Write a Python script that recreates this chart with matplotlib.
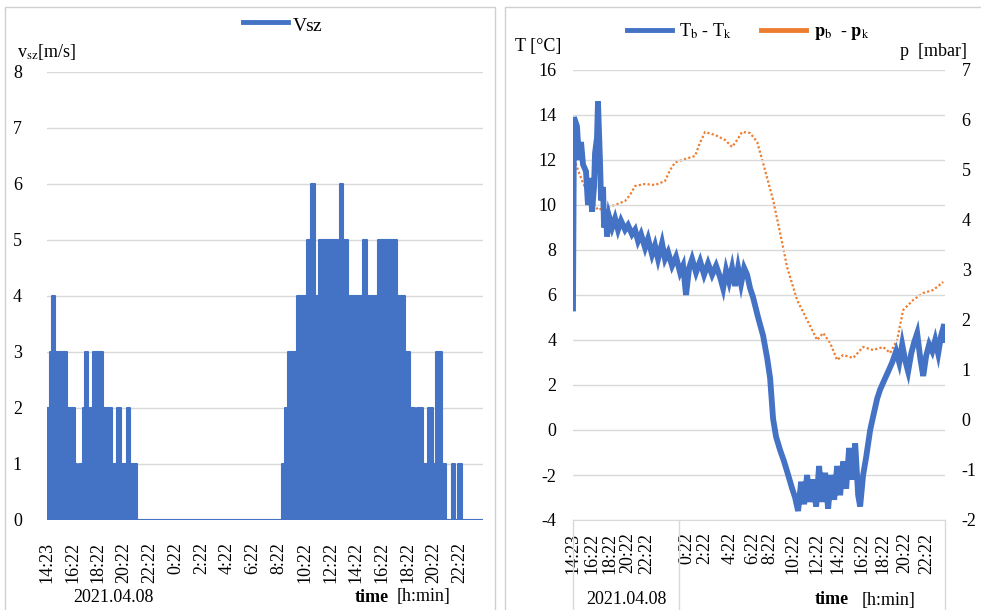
import matplotlib
matplotlib.use("Agg")
import matplotlib.pyplot as plt
from matplotlib.patches import Rectangle
from matplotlib.lines import Line2D

plt.rcParams['font.family'] = ['Liberation Serif', 'DejaVu Serif']
plt.rcParams['mathtext.fontset'] = 'stix'
plt.rcParams['axes.unicode_minus'] = False

# ---------------- data ----------------
# hours since 2021.04.08 14:23
wind_t = [0.0, 0.23, 0.39, 0.62, 1.55, 2.17, 2.33, 2.48, 2.79, 2.95, 3.18, 3.57, 4.34, 5.04,
          5.43, 5.74, 6.2, 6.43, 6.67, 6.74, 6.98, 18.22, 18.45, 18.68, 19.38, 20.16, 20.47,
          20.78, 21.09, 22.71, 22.95, 23.33, 24.26, 24.34, 24.5, 24.81, 25.66, 27.13, 27.75,
          28.14, 28.53, 28.68, 29.15, 29.53, 29.92, 30.16, 30.62, 30.93, 31.4, 31.63, 31.86,
          32.17, 33.8]
wind_v = [2, 3, 4, 3, 2, 1, 0, 1, 2, 3, 2, 3, 2, 1, 2, 1, 2, 1, 0, 1,
          0, 1, 2, 3, 4, 5, 6, 4, 5, 6, 5, 4, 3, 4, 5, 4, 5, 4, 3, 2,
          1, 2, 1, 2, 1, 3, 1, 0, 1, 0, 1, 0, 0]

temp_t = [0.0, 0.09, 0.36, 0.55, 0.73, 0.91, 1.18, 1.36, 1.55, 1.73, 1.91, 2.0, 2.18, 2.27,
          2.45, 2.55, 2.73, 2.82, 3.0, 3.09, 3.27, 3.55, 3.82, 4.09, 4.36, 4.73, 5.0, 5.36,
          5.64, 5.91, 6.18, 6.55, 6.82, 7.18, 7.45, 7.73, 8.09, 8.36, 8.64, 9.0, 9.36, 9.73,
          10.0, 10.27, 10.55, 10.82, 11.18, 11.55, 11.91, 12.27, 12.64, 13.0, 13.36, 13.64,
          13.91, 14.18, 14.45, 14.73, 15.0, 15.27, 15.55, 15.82, 16.09, 16.36, 16.82, 17.27,
          17.64, 17.91, 18.18, 18.45, 18.82, 19.18, 19.55, 19.91, 20.18, 20.45, 20.73, 21.0,
          21.27, 21.55, 21.82, 22.09, 22.36, 22.64, 22.91, 23.18, 23.45, 23.73, 24.0, 24.27,
          24.55, 24.82, 25.09, 25.36, 25.64, 25.91, 26.09, 26.36, 26.64, 27.0, 27.27, 27.64,
          27.91, 28.27, 28.64, 29.0, 29.36, 29.64, 29.91, 30.18, 30.45, 30.73, 31.0, 31.27,
          31.55, 31.82, 32.09, 32.36, 32.64, 32.91, 33.18, 33.45, 33.73, 33.8]
temp_v = [5.4, 13.9, 13.5, 12.0, 12.8, 11.8, 11.5, 10.0, 11.2, 9.7, 10.8, 12.3, 13.0, 14.6,
          12.0, 10.2, 10.8, 9.0, 9.8, 8.6, 9.5, 9.0, 9.4, 8.9, 9.3, 8.9, 9.1, 8.7,
          8.9, 8.4, 8.7, 8.1, 8.5, 7.8, 8.2, 7.6, 8.3, 7.6, 7.9, 7.3, 7.7, 7.0,
          7.3, 6.0, 7.2, 7.6, 7.0, 7.5, 6.9, 7.4, 6.9, 7.3, 6.8, 6.3,
          7.1, 6.6, 7.2, 6.4, 7.2, 6.5, 7.2, 6.9, 6.3, 5.9, 5.0, 4.2,
          3.2, 2.3, 0.5, -0.3, -0.9, -1.4, -2.0, -2.6, -3.0, -3.6, -2.3, -3.3,
          -2.0, -3.2, -2.2, -3.4, -1.6, -3.2, -1.9, -3.5, -2.0, -3.1, -1.6, -2.9,
          -1.4, -2.6, -0.8, -2.2, -0.6, -2.9, -3.4, -2.0, -1.2, 0.0, 0.6, 1.4,
          1.8, 2.2, 2.6, 3.0, 3.5, 3.0, 3.8, 3.1, 2.6, 3.4, 3.9, 4.3,
          3.2, 2.4, 3.3, 3.8, 3.5, 4.0, 3.4, 4.2, 4.7, 4.0]

pres_t = [0.0, 0.45, 0.91, 1.55, 2.27, 2.91, 3.82, 4.73, 5.18, 5.64, 6.55, 7.45, 8.36, 8.82,
          9.27, 10.18, 11.09, 11.55, 12.0, 12.91, 13.82, 14.45, 14.91, 15.36, 16.09, 16.73,
          17.27, 18.18, 18.82, 19.45, 20.36, 21.27, 22.18, 22.73, 23.36, 24.0, 24.55, 25.45,
          26.36, 27.27, 28.18, 28.82, 29.45, 30.0, 30.91, 31.82, 32.73, 33.64]
pres_v = [5.3, 5.0, 4.74, 4.45, 4.2, 4.25, 4.3, 4.38, 4.5, 4.68, 4.72, 4.7, 4.78, 5.0,
          5.15, 5.22, 5.28, 5.55, 5.76, 5.7, 5.6, 5.46, 5.6, 5.76, 5.74, 5.56,
          5.14, 4.4, 3.74, 3.06, 2.4, 2.0, 1.6, 1.74, 1.54, 1.2, 1.3, 1.24,
          1.46, 1.4, 1.46, 1.34, 1.6, 2.2, 2.4, 2.54, 2.6, 2.76]

tick_labels = ['14:23', '16:22', '18:22', '20:22', '22:22', '0:22', '2:22', '4:22', '6:22',
               '8:22', '10:22', '12:22', '14:22', '16:22', '18:22', '20:22', '22:22']
left_tick_pos = [0.0, 1.98, 3.98, 5.98, 7.98, 9.98, 11.98, 13.98, 15.98, 17.98, 19.98,
                 21.98, 23.98, 25.98, 27.98, 29.98, 31.98]
right_tick_pos = [0.0, 1.73, 3.36, 5.0, 6.73, 10.36, 12.0, 14.27, 16.36, 17.9, 20.0,
                  22.18, 24.09, 26.27, 28.18, 30.18, 32.18]
midnight = 9.62
t_end = 33.8

BLUE = '#4472C4'
ORANGE = '#ED7D31'
GRID = '#D9D9D9'
FS = 13

W, H = 981, 610
fig = plt.figure(figsize=(W / 100, H / 100), dpi=100)

# panel frames
fig.patches.append(Rectangle((5 / W, -0.01), 490 / W, 1 - 7 / H + 0.01, transform=fig.transFigure,
                             fill=False, edgecolor='#D0D0D0', lw=1))
fig.patches.append(Rectangle((505 / W, -0.01), 1.0, 1 - 7 / H + 0.01, transform=fig.transFigure,
                             fill=False, edgecolor='#D0D0D0', lw=1))

# ---------------- left panel ----------------
axL = fig.add_axes([47 / W, (H - 520) / H, 436 / W, 448 / H])
axL.fill_between(wind_t, wind_v, 0, step='post', color=BLUE, lw=0)
axL.step(wind_t, wind_v, where='post', color=BLUE, lw=1.5)
axL.set_xlim(0, t_end)
axL.set_ylim(0, 8)
axL.set_yticks(range(0, 9))
axL.yaxis.grid(True, color=GRID, lw=1)
axL.set_axisbelow(True)
for s in axL.spines.values():
    s.set_visible(False)
axL.tick_params(length=0)
axL.tick_params(axis='y', pad=18, labelsize=FS)
axL.set_xticks(left_tick_pos)
axL.set_xticklabels(tick_labels, rotation=90, fontsize=FS, va='top')
axL.tick_params(axis='x', pad=16)
fig.text(17 / W, 1 - 52 / H, r'v$_{\rm sz}$[m/s]', fontsize=FS, ha='left', va='center')
fig.text(113 / W, 1 - 597 / H, '2021.04.08', fontsize=FS, ha='center', va='center')
fig.text(355 / W, 1 - 597 / H, 'time', fontsize=FS, fontweight='bold', ha='left', va='center')
fig.text(397 / W, 1 - 597 / H, '[h:min]', fontsize=FS, ha='left', va='center')
axL.legend(handles=[Line2D([], [], color=BLUE, lw=3.5)], labels=['V$\\mathregular{_{\\!}}$sz'],
           loc='center', bbox_to_anchor=(283 / W, 1 - 24 / H),
           bbox_transform=fig.transFigure, frameon=False, fontsize=FS + 1,
           handlelength=2.3, handletextpad=0.2)

# ---------------- right panel ----------------
axR = fig.add_axes([573 / W, (H - 520) / H, 372 / W, 450 / H])
axR.plot(temp_t, temp_v, color=BLUE, lw=4.2, solid_joinstyle='miter')
axR.set_xlim(0, t_end)
axR.set_ylim(-4, 16)
axR.set_yticks(range(-4, 17, 2))
axR.yaxis.grid(True, color=GRID, lw=1)
axR.set_axisbelow(True)
for k, s in axR.spines.items():
    s.set_visible(k == 'bottom')
axR.spines['bottom'].set_color(GRID)
axR.tick_params(length=0)
axR.tick_params(axis='y', pad=12, labelsize=FS)
axR.set_xticks(right_tick_pos)
axR.set_xticklabels(tick_labels, rotation=90, fontsize=FS, va='top')
axR.tick_params(axis='x', pad=9)
trans = axR.get_xaxis_transform()
for xv in [0, midnight, t_end]:
    axR.plot([xv, xv], [0, -0.23], transform=trans, color=GRID, lw=1, clip_on=False)

axP = axR.twinx()
axP.plot(pres_t, pres_v, color=ORANGE, lw=1.6, ls=(0, (1, 1)))
axP.set_ylim(-2, 7)
axP.set_yticks(range(-2, 8))
for s in axP.spines.values():
    s.set_visible(False)
axP.tick_params(length=0, pad=12, labelsize=FS)
axR.set_zorder(axP.get_zorder() + 1)
axR.patch.set_visible(False)

fig.text(515 / W, 1 - 47 / H, 'T [°C]', fontsize=FS, ha='left', va='center')
fig.text(900 / W, 1 - 52 / H, 'p  [mbar]', fontsize=FS, ha='left', va='center')
fig.text(626 / W, 1 - 600 / H, '2021.04.08', fontsize=FS, ha='center', va='center')
fig.text(815 / W, 1 - 600 / H, 'time', fontsize=FS, fontweight='bold', ha='left', va='center')
fig.text(862 / W, 1 - 600 / H, '[h:min]', fontsize=FS, ha='left', va='center')

axR.legend(handles=[Line2D([], [], color=BLUE, lw=3.5), Line2D([], [], color=ORANGE, lw=3.5)],
           labels=[r'T$_{\rm b}$ - T$_{\rm k}$', r'$\mathbf{p}_{\rm b}$  - $\mathbf{p}_{\rm k}$'],
           loc='center', bbox_to_anchor=(748 / W, 1 - 32 / H), bbox_transform=fig.transFigure,
           frameon=False, ncol=2, fontsize=FS, handlelength=2.5, handletextpad=0.4,
           columnspacing=1.6)

fig.savefig('out.png', dpi=100)
